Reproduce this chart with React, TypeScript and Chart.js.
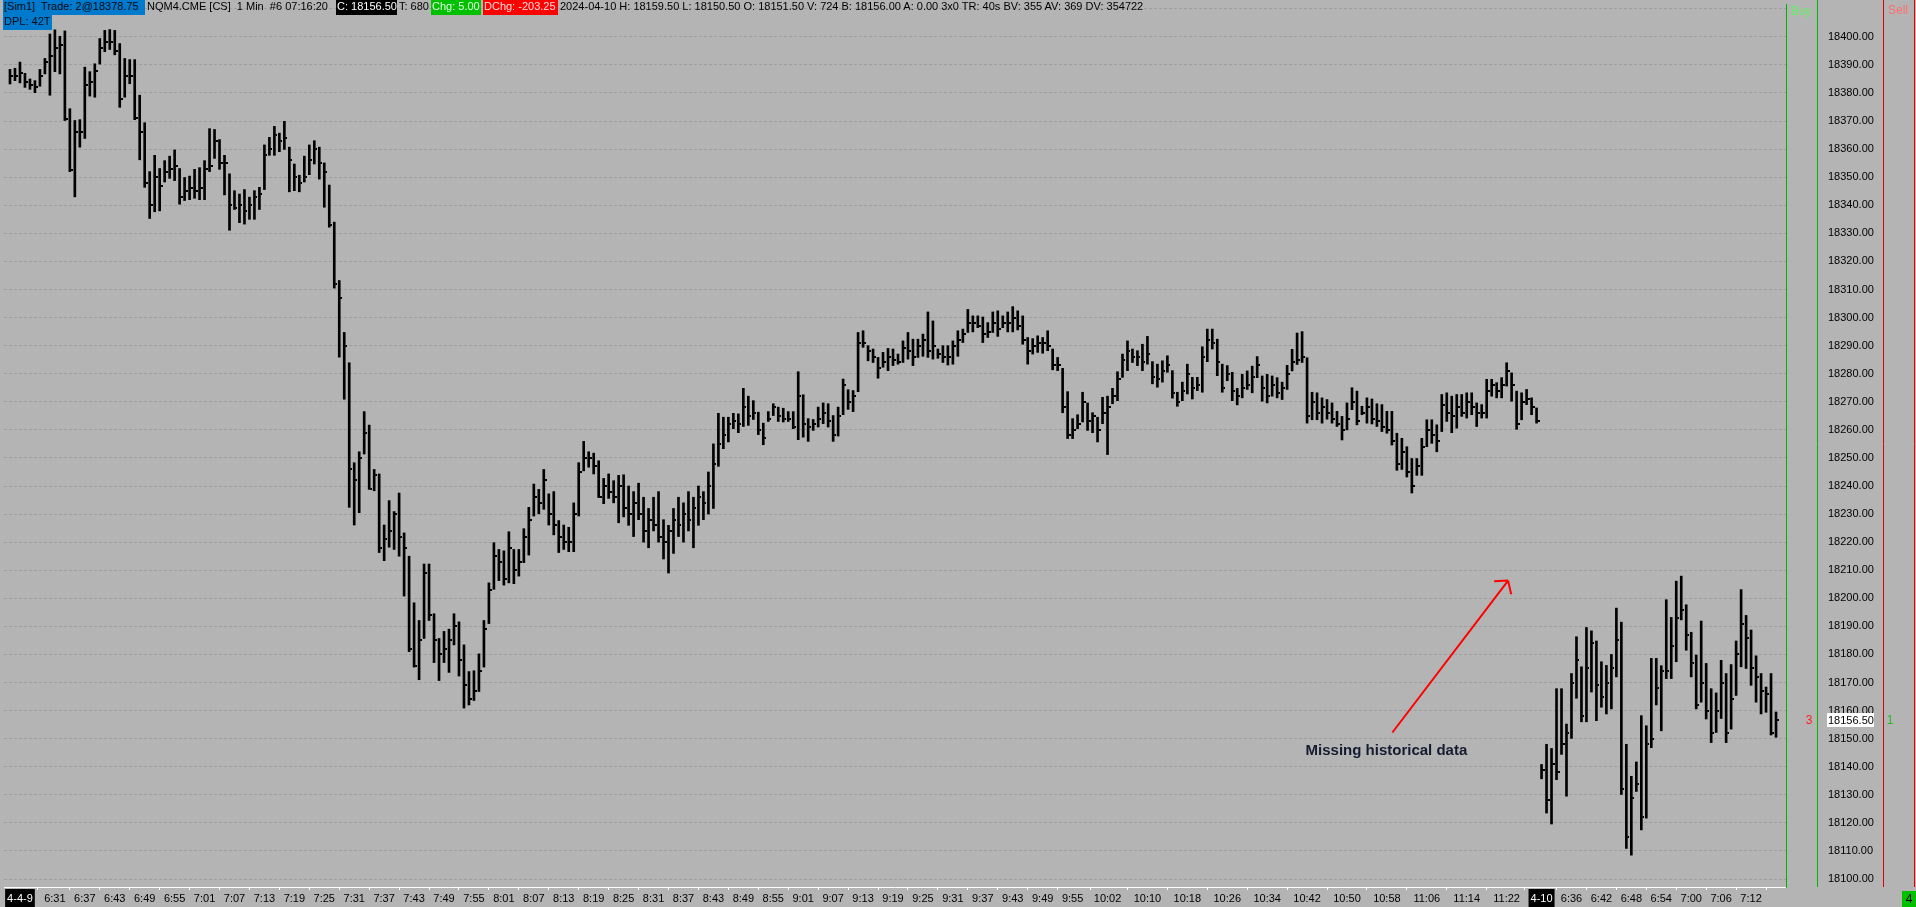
import React, { useEffect, useRef } from 'react';
import { Chart, registerables } from 'chart.js';
Chart.register(...registerables);

// ---------- data (bar index 0 = 2024-04-09 06:22, 1-minute bars; index 307 = 2024-04-10 06:30) ----------
const HIGH = [
  18388.4,18388.8,18391,18387,18385,18384.4,18388.4,18392.3,18401,18402.5,
  18400.2,18402.1,18374.4,18370.2,18370.5,18389.2,18387.6,18390.4,18399.4,18402.3,
  18402.6,18402.3,18397.6,18392.3,18391.9,18391.9,18379.2,18369.4,18352,18357.8,
  18353.1,18355.9,18357.5,18359.7,18353.1,18349.9,18350.4,18352.8,18353.4,18355.9,
  18367.3,18367,18363.4,18357.8,18351.2,18345.2,18344,18345.6,18342.9,18345.2,
  18346.4,18361.5,18364.2,18368.1,18365.7,18369.9,18360.7,18354.7,18350.7,18357.5,
  18361.5,18363,18360.7,18355.1,18347.2,18334,18313.2,18294.7,18283.9,18248.3,
  18252.2,18266.5,18261.7,18245.9,18244.3,18226.1,18234.8,18230.9,18237.5,18223.3,
  18215,18198.4,18192.1,18212.2,18212.2,18194.5,18185.7,18188.2,18189,18194.5,
  18191.6,18183.4,18173.9,18174.2,18180.2,18192.1,18205.5,18219.8,18217.4,18216.9,
  18223.7,18217.4,18217.4,18224.8,18232.4,18240.7,18238.8,18245.9,18237.2,18238,
  18227.7,18226.1,18225.3,18234,18248.3,18255.9,18252.2,18251.7,18249,18242.7,
  18244.3,18241.9,18243.8,18244,18240,18238,18241,18236,18232,18236,
  18238,18228,18226,18232,18236,18234,18238,18236,18240,18238,
  18245,18255,18265.9,18264.5,18264.5,18265.9,18265.7,18274.8,18272,18270.4,
  18266.3,18262.4,18266.5,18269.3,18268.1,18267.7,18266.5,18266.5,18280.7,18272.5,
  18264,18263.7,18268.1,18269.6,18269.3,18265.1,18268.1,18278.1,18274.3,18274,
  18294.7,18295.3,18290,18288.8,18285.8,18287.6,18289,18288.8,18287,18291.7,
  18294.7,18292.3,18292.3,18294.1,18302,18298.8,18288.8,18290,18290,18291.7,
  18295.3,18295.9,18302.9,18300.6,18300.6,18300.2,18298.2,18302,18302.4,18300.6,
  18302,18303.9,18302.4,18300.6,18292.9,18292.5,18293.5,18292.9,18295.3,18288.8,
  18285.8,18281.9,18273.6,18264,18265.4,18273.4,18269.6,18266.1,18264.5,18271.6,
  18272,18274.8,18280.7,18287,18291.7,18288.8,18288.2,18290.5,18293.3,18284.3,
  18283.4,18284.6,18286.4,18281.1,18273.4,18277,18283.4,18278.7,18278.7,18289.6,
  18295.9,18295.9,18292.3,18283.4,18282.9,18280.5,18274.8,18279.8,18281,18282.7,
  18286.1,18279.2,18279.8,18279.2,18278.6,18277,18283,18288.7,18294.5,18295,
  18285.7,18273.4,18273.2,18271.4,18270.8,18269.6,18266.6,18264.8,18269.6,18275,
  18273.8,18268.4,18271.4,18271,18269.3,18269,18266.6,18266.6,18258.8,18257,
  18254,18249.8,18249.8,18257,18263.6,18263.6,18261.8,18272.6,18273.2,18272,
  18272.6,18272.6,18273.2,18273.2,18269.6,18269,18278,18278,18276.8,18278.6,
  18283.9,18280.3,18273.8,18273.2,18274.4,18271.4,18267.8,
  18140.8,18148,18146.5,
  18167.8,18167.8,18155.2,18173.2,18186.3,18175.6,18189.6,18188.4,18184.8,18177.4,
  18176.1,18180,18196.5,18191.5,18148,18136.6,18141.7,18158.2,18154.6,18178.6,
  18178.6,18176,18199.5,18193.2,18206.1,18207.9,18197.7,18187.9,18179.8,18191.9,
  18176.8,18167.8,18166.3,18177.9,18173.2,18176.4,18184.8,18203.1,18193.9,18188.7,
  18179.5,18173.2,18168.4,18173.2,18159.5,
];

const LOW = [
  18383.2,18384.4,18383.6,18382,18381.3,18380.1,18382.4,18386.8,18379.2,18387.6,
  18386.8,18370.2,18352,18343,18360.7,18363.8,18378.9,18378.5,18390.3,18394.7,
  18395.5,18393.6,18374.9,18378.5,18383.3,18370.5,18356.2,18346.4,18335.3,18337.7,
  18338,18348.3,18349.6,18348.8,18340.4,18341.7,18342,18342.5,18342,18342,
  18352,18356.7,18352.8,18343.7,18331.1,18338.5,18333.8,18333.3,18335,18335,
  18338.5,18345.6,18357.8,18357.8,18359.1,18359.9,18344.8,18345.2,18344.8,18348.3,
  18350.9,18354.7,18349.3,18339.3,18332.2,18310.5,18285.9,18270.9,18232.4,18226.1,
  18230.5,18251.4,18238.8,18238.3,18216.3,18213.4,18218.2,18217.4,18215,18200.8,
  18181,18175.5,18171,18185.7,18192.1,18177.1,18170.7,18177.1,18173.6,18183.4,
  18172.3,18160.9,18162,18163.6,18166.8,18175.5,18191,18203.2,18206.3,18204.7,
  18205.5,18205.2,18207.9,18212.7,18215.4,18229.3,18230.1,18231.7,18226.1,18222.6,
  18216.3,18217.4,18216.6,18216.6,18229.3,18245.4,18246.7,18244.3,18235.9,18233.7,
  18235.6,18234,18226.9,18229,18226,18222,18228,18220,18218,18224,
  18220,18214,18209,18216,18222,18220,18224,18218,18226,18228,
  18230,18232,18247,18253.3,18255.7,18260.4,18259,18261.2,18261.6,18263.7,
  18258.3,18254.7,18263,18265.1,18263,18262.8,18263,18260.4,18256.5,18257.4,
  18255.9,18259.8,18261,18262.2,18261,18255.9,18257.8,18265.4,18267.3,18266.5,
  18273.6,18289.4,18284.6,18284,18278.4,18282.3,18281.1,18282.9,18283.4,18284,
  18285.2,18282.9,18285.8,18286.2,18285.8,18285.2,18285.5,18284,18283.1,18283.4,
  18286.2,18291.1,18294.7,18294.9,18296.4,18291.1,18292.9,18294.7,18293.3,18296.4,
  18294.9,18294.9,18295.6,18290.5,18283.4,18287,18287.6,18287.3,18288.2,18281.4,
  18281.1,18266.1,18256.9,18256.9,18260.4,18262.8,18259.8,18259,18255.7,18262.2,
  18251.2,18269.3,18270.4,18278.7,18281.1,18284,18282.9,18281.1,18283.4,18276.4,
  18275.2,18277,18280.5,18271.3,18268.4,18270.4,18272.8,18271,18274,18273.4,
  18284.3,18288.8,18279.3,18273.4,18277.5,18270.4,18268.9,18271.4,18274.4,18273.2,
  18278.6,18270.2,18269.6,18272,18271.4,18270.8,18274.4,18281,18283.3,18284,
  18262.4,18263.6,18263.6,18262.4,18263.8,18262.4,18261.2,18256.4,18260,18267.2,
  18261.8,18265.4,18262.4,18262.1,18261.2,18259.4,18258.8,18254.6,18245.6,18245.9,
  18243.2,18237.5,18243.8,18243.8,18254,18255.2,18252.2,18259.4,18263,18259,
  18260.6,18264.8,18264.2,18265.4,18261.2,18264.2,18264.2,18272,18271.4,18271.4,
  18275.6,18270.2,18260.2,18263.6,18269,18265.4,18262.4,
  18135.7,18123.5,18119.6,
  18135.4,18144.4,18129.5,18150.1,18164.4,18156,18156,18166.6,18156.4,18161.2,
  18158.8,18160.6,18172,18130.1,18110.9,18108.5,18131.2,18117.5,18121.7,18146.8,
  18162,18152.8,18171.4,18171.4,18177.4,18192.3,18181.5,18172,18160.6,18163,
  18157,18148.6,18152.2,18157.2,18148.6,18153.4,18165.4,18175.6,18175,18169,
  18163,18158.8,18159.4,18151.3,18150.5,
];

const CLOSE = [
  18386,18386,18387,18384,18383,18382,18386,18391,18393,18396,
  18397,18370.7,18352.5,18366,18366,18383,18384,18388,18396,18398,
  18398,18395,18378,18386,18386,18371,18366,18348,18340,18350,
  18347,18352,18353,18354,18343,18345,18346,18345,18346,18353,
  18354,18363,18355,18355,18340,18339,18340,18338,18340,18343,
  18344,18358,18360,18365,18363,18364,18356,18350,18348,18350,
  18356,18360,18355,18352,18333,18312,18307,18290,18246,18242,
  18250,18259,18239,18244,18218,18221,18224,18230,18222,18218,
  18182,18176,18185,18209,18194,18185,18180,18182,18185,18190,
  18178,18169,18164,18167,18174,18189,18203,18215,18213,18207,
  18218,18210,18213,18222,18228,18236,18234,18242,18230,18226,
  18222,18220,18220,18230,18245,18250,18250,18247,18236,18240,
  18238,18236,18240,18232,18230,18234,18230,18224,18228,18226,
  18222,18220,18224,18228,18226,18230,18228,18232,18236,18234,
  18240,18248,18255,18258,18262,18263,18262,18268,18265,18266,
  18260,18257,18264,18268,18265,18264,18264,18261,18272,18262,
  18261,18262,18264,18266,18263,18258,18265,18276,18270,18272,
  18291,18291,18288,18286,18282,18284,18286,18285,18284,18289,
  18288,18286,18290,18292,18288,18290,18287,18286,18286,18290,
  18292,18294,18298,18298,18297,18294,18295,18298,18296,18298,
  18298,18300,18297,18292,18288,18290,18291,18291,18290,18283,
  18283,18268,18258,18260,18262,18270,18263,18265,18260,18266,
  18268,18272,18278,18285,18288,18286,18286,18284,18287,18279,
  18278,18281,18283,18273,18270,18274,18280,18275,18276,18286,
  18292,18291,18284,18275,18280,18274,18272,18275,18276,18279,
  18283,18275,18272,18276,18273,18275,18280,18284,18285,18286,
  18265,18270,18266,18268,18266,18264,18262,18260,18264,18270,
  18263,18266,18268,18264,18263,18261,18260,18256,18248,18252,
  18245,18240,18247,18254,18260,18258,18256,18269,18266,18265,
  18268,18266,18270,18268,18266,18266,18274,18276,18274,18276,
  18281,18276,18262,18270,18271,18268,18263,
  18139,18128,18141,
  18138,18148,18152,18170,18178,18158,18175,18184,18169,18165,
  18170,18175,18185,18132,18115,18129,18134,18122,18148,18150,
  18168,18174,18174,18183,18193,18196,18187,18177,18162,18170,
  18160,18152,18160,18170,18152,18164,18180,18191,18186,18175,
  18172,18167,18166,18152,18156.5,
];

const X_TICK_INDEX = [
  2, 9, 15, 21, 27, 33, 39, 45, 51, 57, 63, 69, 75, 81, 87, 93, 99, 105, 111, 117, 123,
  129, 135, 141, 147, 153, 159, 165, 171, 177, 183, 189, 195, 201, 207, 213,
  220, 228, 236, 244, 252, 260, 268, 276, 284, 292, 300,
  307, 313, 319, 325, 331, 337, 343, 349,
];
const X_TICK_LABEL = [
  '4-4-9', '6:31', '6:37', '6:43', '6:49', '6:55', '7:01', '7:07', '7:13', '7:19', '7:25', '7:31', '7:37', '7:43', '7:49', '7:55', '8:01', '8:07', '8:13', '8:19', '8:25',
  '8:31', '8:37', '8:43', '8:49', '8:55', '9:01', '9:07', '9:13', '9:19', '9:25', '9:31', '9:37', '9:43', '9:49', '9:55',
  '10:02', '10:10', '10:18', '10:26', '10:34', '10:42', '10:50', '10:58', '11:06', '11:14', '11:22',
  '4-10', '6:36', '6:42', '6:48', '6:54', '7:00', '7:06', '7:12',
];
const DATE_TICK_INDEX = [2, 307];

const Y_MIN = 18097.16;
const Y_MAX = 18411.7;
const Y_STEP = 5;
const Y_LABEL_MAX = 18400;
const X_MIN = -1.2;
const X_MAX = 356;

const LAST_PRICE = 18156.5;
const SELL_QTY = '3';
const BUY_QTY = '1';
const COUNT_TEXT = '4';

const ARROW_FROM = [277.1, 18152.2];
const ARROW_TO = [300.3, 18206.3];
const NOTE_AT = [259.7, 18145.7];
const NOTE_TEXT = 'Missing historical data';

const HEADER_SEGMENTS = [
  { text: '[Sim1]  Trade: 2@18378.75', left: 3, top: 0, width: 142, bg: '#007acc', color: '#0a0a14' },
  { text: 'NQM4.CME [CS]  1 Min  #6 07:16:20', left: 147, top: 0 },
  { text: 'C: 18156.50', left: 336, top: 0, width: 61, bg: '#000000', color: '#ffffff' },
  { text: 'T: 680', left: 399, top: 0 },
  { text: 'Chg: 5.00', left: 431, top: 0, width: 50, bg: '#00c000', color: '#e6ffe6' },
  { text: 'DChg: -203.25', left: 483, top: 0, width: 75, bg: '#ff0000', color: '#ffe0e0' },
  { text: '2024-04-10 H: 18159.50 L: 18150.50 O: 18151.50 V: 724 B: 18156.00 A: 0.00 3x0 TR: 40s BV: 355 AV: 369 DV: 354722', left: 560, top: 0 },
  { text: 'DPL: 42T', left: 3, top: 15, width: 49, bg: '#007acc', color: '#0a0a14' },
];

// ---------- style ----------
const BG = '#b4b4b4';
const GRID = '#9e9e9e';
const TEXT_FONT = "'Liberation Sans', Arial, sans-serif";
const AXIS_FONT = "'Liberation Sans', Arial, sans-serif";
const AXIS_SIZE = 11;

function makeCloseTick(): HTMLCanvasElement {
  const c = document.createElement('canvas');
  c.width = 6;
  c.height = 2;
  const g = c.getContext('2d')!;
  g.fillStyle = '#000';
  g.fillRect(4, 0, 2, 2);
  return c;
}

export default function App() {
  const ref = useRef<HTMLCanvasElement | null>(null);

  useEffect(() => {
    document.body.style.margin = '0';
    document.body.style.overflow = 'hidden';
    document.body.style.background = BG;
    const closeTick = makeCloseTick();

    const overlay = {
      id: 'overlay',
      afterDraw(chart: any) {
        const { ctx, chartArea, scales } = chart;
        const xs = scales.x;
        const ys = scales.y;
        const R = chartArea.right;
        const B = chartArea.bottom;
        ctx.save();
        const vline = (x: number, color: string) => {
          ctx.strokeStyle = color;
          ctx.lineWidth = 1;
          ctx.beginPath();
          ctx.moveTo(x + 0.5, 0);
          ctx.lineTo(x + 0.5, B);
          ctx.stroke();
        };
        vline(R + 31, '#00b400');
        vline(R + 97, '#e00000');
        vline(R + 128, '#e00000');

        ctx.font = `12px ${TEXT_FONT}`;
        ctx.textBaseline = 'middle';
        ctx.textAlign = 'center';
        ctx.fillStyle = '#66f066';
        ctx.fillText('Buy', R + 15, 12);
        ctx.fillStyle = '#ff6e6e';
        ctx.fillText('Sell', R + 112, 11);

        const py = ys.getPixelForValue(LAST_PRICE);
        ctx.fillStyle = '#ff2020';
        ctx.fillText(SELL_QTY, R + 23, py);
        ctx.fillStyle = '#20c020';
        ctx.fillText(BUY_QTY, R + 104, py);

        ctx.fillStyle = '#ffffff';
        ctx.fillRect(R + 41, Math.round(py) - 7, 47, 14);
        ctx.fillStyle = '#000000';
        ctx.textAlign = 'left';
        ctx.font = `${AXIS_SIZE}px ${AXIS_FONT}`;
        ctx.fillText(LAST_PRICE.toFixed(2), R + 42, py + 0.5);

        ctx.fillStyle = '#00c000';
        ctx.fillRect(R + 116, B + 4, 14, 16);
        ctx.fillStyle = '#000000';
        ctx.textAlign = 'center';
        ctx.font = `12px ${TEXT_FONT}`;
        ctx.fillText(COUNT_TEXT, R + 123, B + 12.5);

        // annotation arrow
        const x1 = xs.getPixelForValue(ARROW_FROM[0]);
        const y1 = ys.getPixelForValue(ARROW_FROM[1]);
        const x2 = xs.getPixelForValue(ARROW_TO[0]);
        const y2 = ys.getPixelForValue(ARROW_TO[1]);
        ctx.strokeStyle = '#ff0000';
        ctx.lineWidth = 2;
        ctx.beginPath();
        ctx.moveTo(x1, y1);
        ctx.lineTo(x2, y2);
        const ang = Math.atan2(y1 - y2, x1 - x2);
        for (const d of [-0.87, 0.87]) {
          ctx.moveTo(x2, y2);
          ctx.lineTo(x2 + 14 * Math.cos(ang + d), y2 + 14 * Math.sin(ang + d));
        }
        ctx.stroke();

        ctx.fillStyle = '#161c30';
        ctx.font = `bold 15px ${TEXT_FONT}`;
        ctx.textAlign = 'left';
        ctx.textBaseline = 'middle';
        ctx.fillText(NOTE_TEXT, xs.getPixelForValue(NOTE_AT[0]), ys.getPixelForValue(NOTE_AT[1]));
        ctx.restore();
      },
    };

    const isDate = (c: any) => !!c.tick && DATE_TICK_INDEX.includes(c.tick.value);

    const chart = new Chart(ref.current!, {
      type: 'bar',
      data: {
        datasets: [
          {
            type: 'bar',
            label: 'High-Low',
            data: HIGH.map((h, i) => ({ x: i, y: [LOW[i], h] })) as any,
            backgroundColor: '#000000',
            borderWidth: 0,
            barThickness: 2,
            grouped: false,
          } as any,
          {
            type: 'scatter',
            label: 'Close',
            data: CLOSE.map((c, i) => ({ x: i, y: c })),
            pointStyle: closeTick as any,
            pointRadius: 3,
            pointHoverRadius: 3,
          } as any,
        ],
      },
      options: {
        animation: false,
        responsive: true,
        maintainAspectRatio: false,
        layout: { padding: 0 },
        events: [],
        plugins: { legend: { display: false }, tooltip: { enabled: false } },
        scales: {
          x: {
            type: 'linear',
            min: X_MIN,
            max: X_MAX,
            offset: false,
            position: 'bottom',
            afterBuildTicks: (s: any) => {
              s.ticks = X_TICK_INDEX.map((v) => ({ value: v }));
            },
            afterFit: (s: any) => {
              s.height = 20;
              s.paddingLeft = 0;
              s.paddingRight = 0;
            },
            grid: {
              display: true,
              drawOnChartArea: false,
              drawTicks: true,
              tickLength: 3,
              color: '#ffffff',
              tickColor: '#ffffff',
            },
            border: { display: true, color: '#ffffff', width: 1 },
            ticks: {
              autoSkip: false,
              maxRotation: 0,
              minRotation: 0,
              padding: 2,
              font: { family: AXIS_FONT, size: AXIS_SIZE },
              color: (c: any) => (isDate(c) ? '#ffffff' : '#000000'),
              showLabelBackdrop: (c: any) => isDate(c),
              backdropColor: '#000000',
              backdropPadding: { top: 3, bottom: 3, left: 2, right: 2 },
              callback: (v: any) => {
                const k = X_TICK_INDEX.indexOf(Number(v));
                return k >= 0 ? X_TICK_LABEL[k] : '';
              },
            },
          } as any,
          y: {
            type: 'linear',
            position: 'right',
            min: Y_MIN,
            max: Y_MAX,
            afterFit: (s: any) => {
              s.width = 130;
              s.paddingTop = 0;
              s.paddingBottom = 0;
            },
            grid: {
              display: true,
              drawOnChartArea: true,
              drawTicks: false,
              color: GRID,
              lineWidth: 1,
            },
            border: { display: true, color: '#00b400', width: 1, dash: [3, 2] },
            ticks: {
              stepSize: Y_STEP,
              includeBounds: false,
              padding: 42,
              color: '#000000',
              font: { family: AXIS_FONT, size: AXIS_SIZE },
              callback: (v: any) => {
                const n = Number(v);
                return n % 10 === 0 && n <= Y_LABEL_MAX ? n.toFixed(2) : '';
              },
            },
          } as any,
        },
      },
      plugins: [overlay],
    });
    return () => chart.destroy();
  }, []);

  return (
    <div style={{ position: 'relative', width: 1916, height: 907, background: BG, overflow: 'hidden' }}>
      <div style={{ position: 'absolute', left: 0, top: 0, width: 1916, height: 907 }}>
        <canvas ref={ref} />
      </div>
      {HEADER_SEGMENTS.map((s, i) => (
        <div
          key={i}
          style={{
            position: 'absolute',
            left: s.left,
            top: s.top,
            width: s.width,
            height: 15,
            lineHeight: '15px',
            background: s.bg,
            color: s.color || '#000000',
            font: `11px ${TEXT_FONT}`,
            whiteSpace: 'pre',
            paddingLeft: s.bg ? 1 : 0,
            boxSizing: 'border-box',
            overflow: 'hidden',
          }}
        >
          {s.text}
        </div>
      ))}
    </div>
  );
}
